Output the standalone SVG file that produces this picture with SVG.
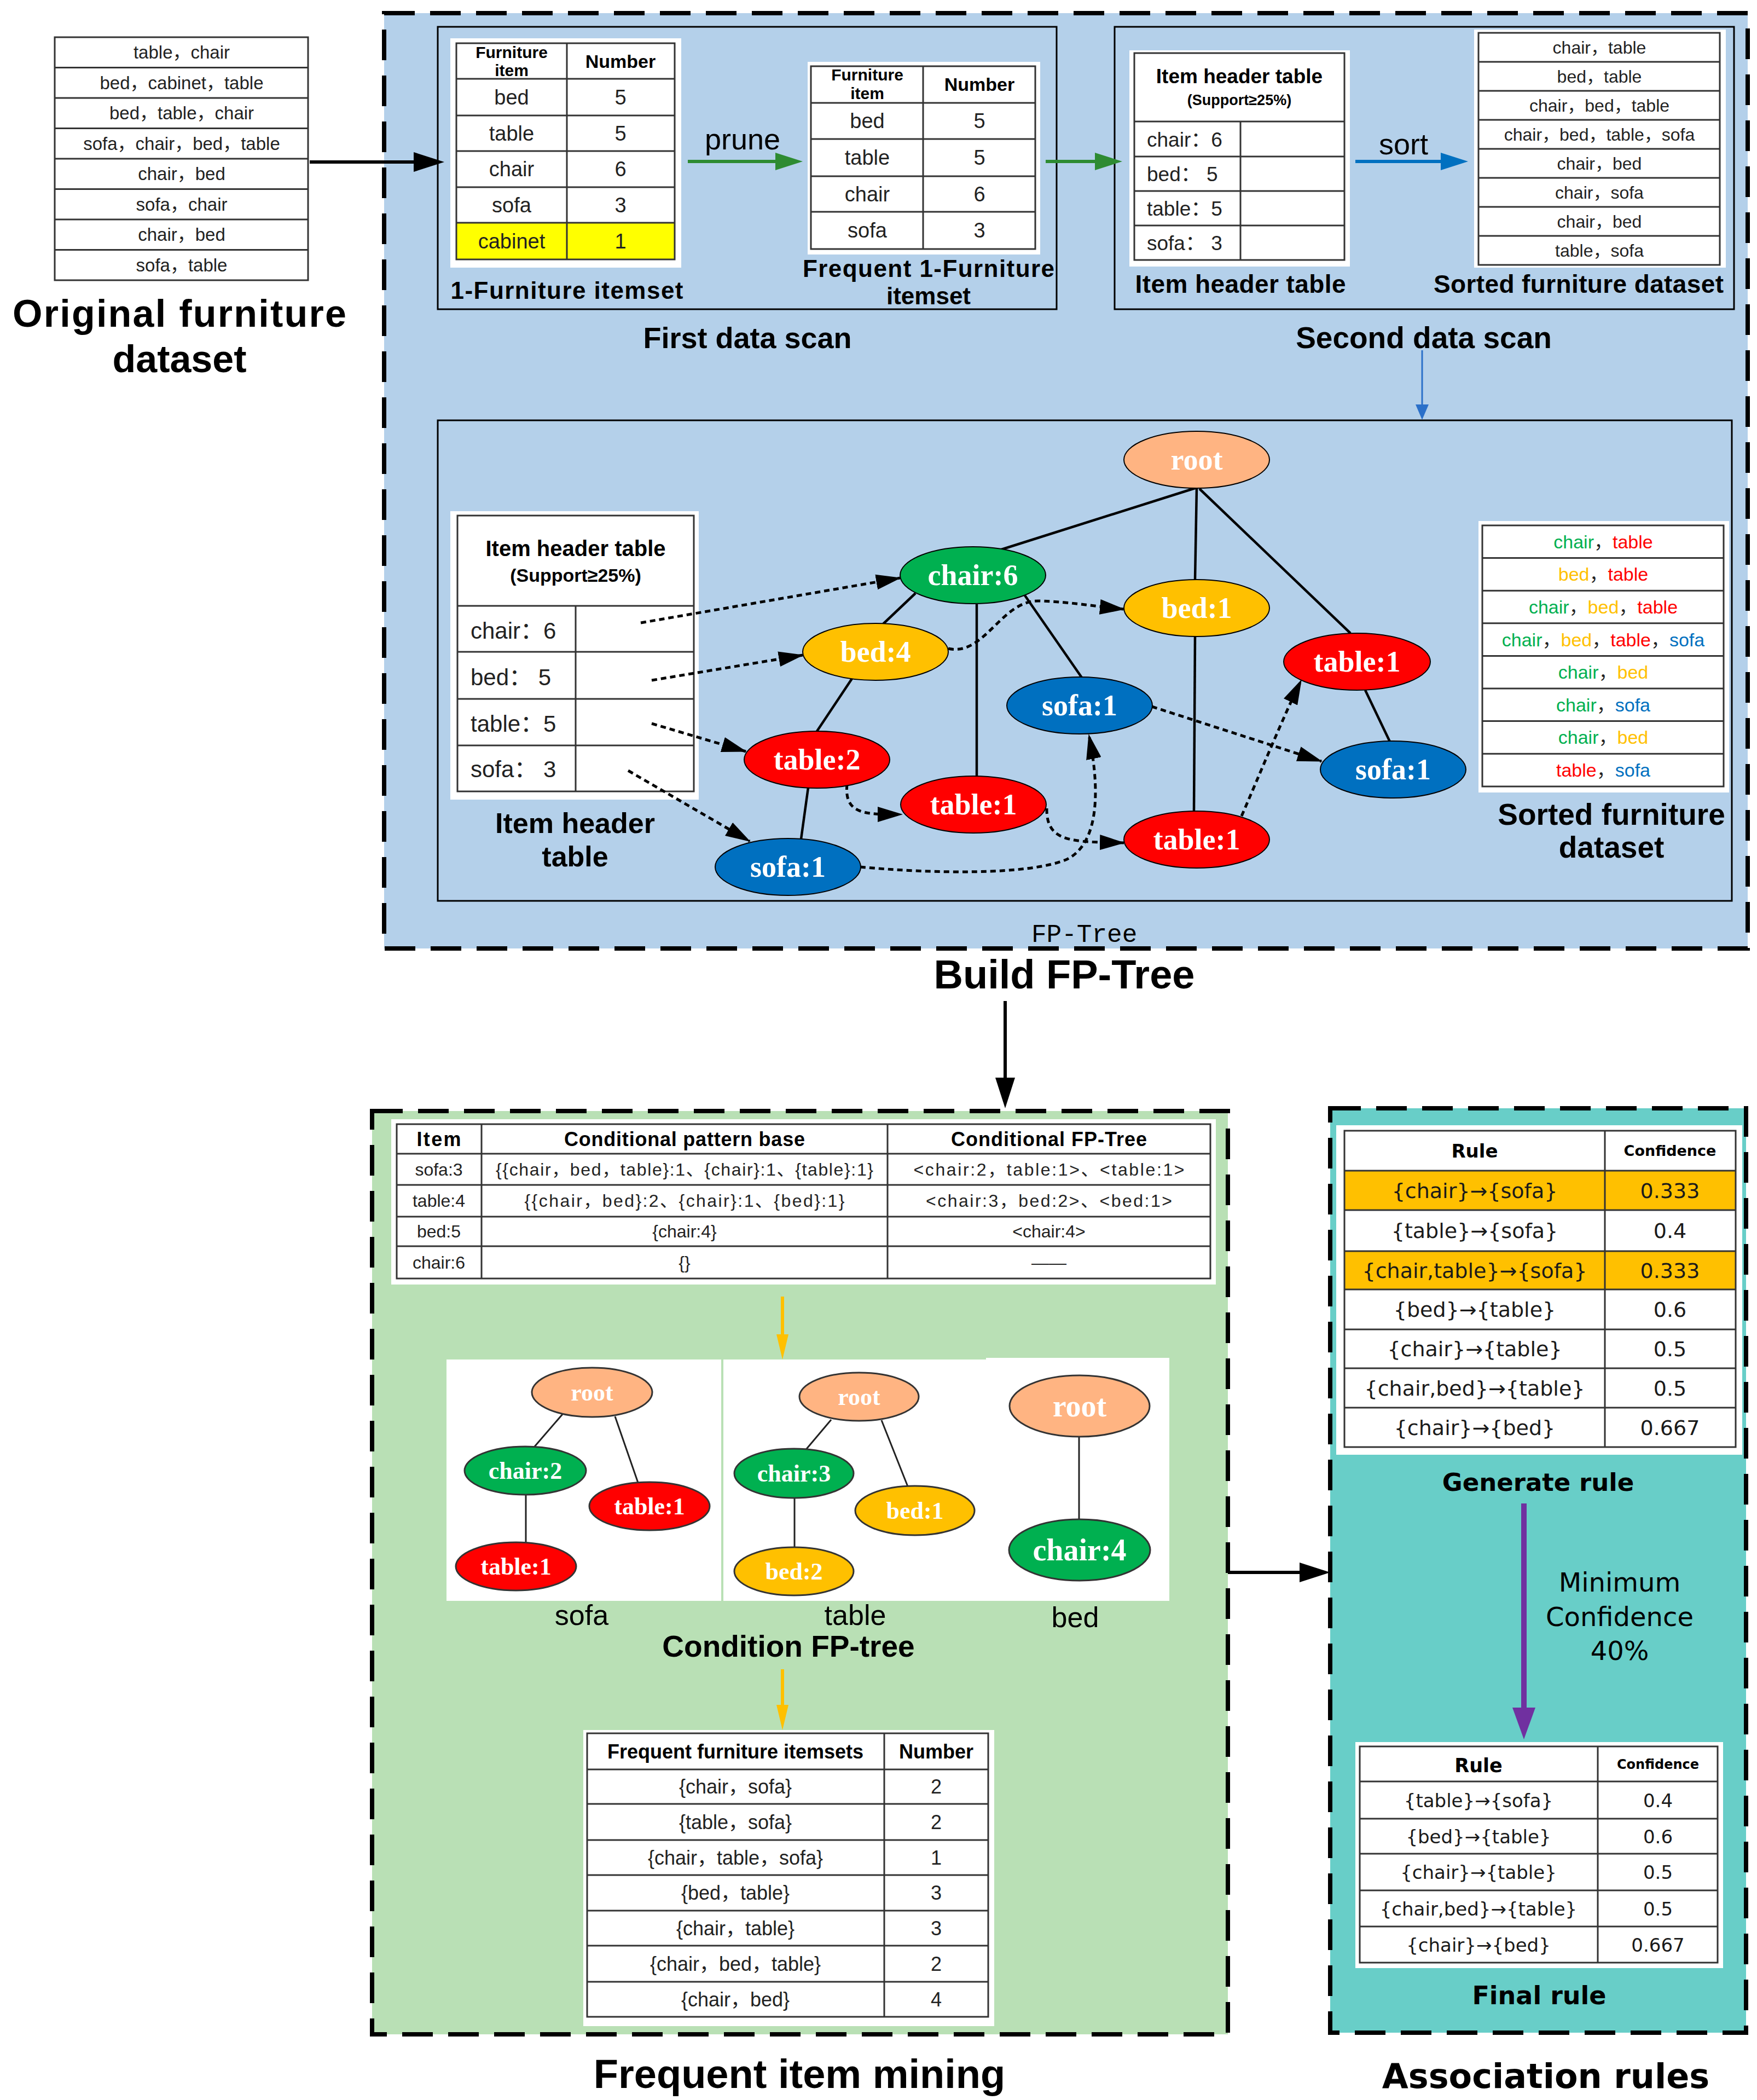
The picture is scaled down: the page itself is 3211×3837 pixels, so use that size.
<svg xmlns="http://www.w3.org/2000/svg" width="3211" height="3837" viewBox="0 0 3211 3837">
<style>
.s{font-family:"Liberation Sans","Noto Sans CJK SC",sans-serif;fill:#222}
.sb{font-family:"Liberation Sans","Noto Sans CJK SC",sans-serif;font-weight:bold;fill:#000}
.dv{font-family:"DejaVu Sans","Noto Sans CJK SC",sans-serif;fill:#1a1a1a}
.dvb{font-family:"DejaVu Sans",sans-serif;font-weight:bold;fill:#000}
.m{text-anchor:middle}
.nd{font-family:"Liberation Serif",serif;font-weight:bold;fill:#fff;text-anchor:middle;font-size:54px}
.ct{font-family:"Liberation Serif",serif;font-weight:bold;fill:#fff;text-anchor:middle}
.frame{stroke:#000;stroke-width:8;stroke-dasharray:56 28}
.box{fill:none;stroke:#000;stroke-width:3}
.tb{fill:#fff;stroke:#333;stroke-width:3}
.tbo{fill:none;stroke:#333;stroke-width:3}
.gl{fill:none;stroke:#333;stroke-width:3}
.edge{fill:none;stroke:#000;stroke-width:4.5}
.link{fill:none;stroke:#000;stroke-width:5;stroke-dasharray:10 7}
.cedge{fill:none;stroke:#222;stroke-width:3}
.root{fill:#FFB482;stroke:#000;stroke-width:2}
.gr{fill:#00B050;stroke:#000;stroke-width:2}
.ye{fill:#FFC000;stroke:#000;stroke-width:2}
.re{fill:#FF0000;stroke:#000;stroke-width:2}
.bl{fill:#0070C0;stroke:#000;stroke-width:2}
.cg{fill:#00B050}.cr{fill:#FF0000}.cy{fill:#FFC000}.cb{fill:#0070C0}
.cn{stroke:#333;stroke-width:3}
</style>
<defs>
<marker id="ak" markerUnits="userSpaceOnUse" markerWidth="56" markerHeight="36" refX="28" refY="18" orient="auto"><path d="M0,0 L56,18 L0,36 z" fill="#000"/></marker>
<marker id="ag" markerUnits="userSpaceOnUse" markerWidth="50" markerHeight="32" refX="25" refY="16" orient="auto"><path d="M0,0 L50,16 L0,32 z" fill="#2E8B32"/></marker>
<marker id="ab" markerUnits="userSpaceOnUse" markerWidth="50" markerHeight="32" refX="25" refY="16" orient="auto"><path d="M0,0 L50,16 L0,32 z" fill="#0070C0"/></marker>
<marker id="abs" markerUnits="userSpaceOnUse" markerWidth="28" markerHeight="24" refX="14" refY="12" orient="auto"><path d="M0,0 L28,12 L0,24 z" fill="#2B70C9"/></marker>
<marker id="al" markerUnits="userSpaceOnUse" markerWidth="46" markerHeight="28" refX="44" refY="14" orient="auto"><path d="M0,0 L46,14 L0,28 z" fill="#000"/></marker>
<marker id="ay" markerUnits="userSpaceOnUse" markerWidth="46" markerHeight="22" refX="23" refY="11" orient="auto"><path d="M0,0 L46,11 L0,22 z" fill="#FFC000"/></marker>
<marker id="ap" markerUnits="userSpaceOnUse" markerWidth="58" markerHeight="42" refX="29" refY="21" orient="auto"><path d="M0,0 L58,21 L0,42 z" fill="#7030A0"/></marker>
</defs>
<rect width="3211" height="3837" fill="#fff"/>

<!-- Frames -->
<g id="frames">
<rect x="702" y="24" width="2492" height="1709" fill="#B4D0EA" class="frame"/>
<rect x="680" y="2030" width="1564" height="1687" fill="#B9E0B5" class="frame"/>
<rect x="2431" y="2025" width="760" height="1689" fill="#68CEC8" class="frame"/>
</g>

<!-- Original dataset -->
<g id="original-dataset">
<rect x="100" y="68" width="463" height="444" class="tb"/>
<path class="gl" d="M100,123.5H563M100,179H563M100,234.5H563M100,290H563M100,345.5H563M100,401H563M100,456.5H563"/>
<g class="s m" font-size="33">
<text x="332" y="107">table，chair</text>
<text x="332" y="163">bed，cabinet，table</text>
<text x="332" y="218">bed，table，chair</text>
<text x="332" y="274">sofa，chair，bed，table</text>
<text x="332" y="329">chair，bed</text>
<text x="332" y="385">sofa，chair</text>
<text x="332" y="440">chair，bed</text>
<text x="332" y="496">sofa，table</text>
</g>
<text class="sb m" font-size="70" x="328" y="597" textLength="610">Original furniture</text>
<text class="sb m" font-size="70" x="328" y="680">dataset</text>
</g>

<!-- First data scan -->
<g id="first-data-scan">
<rect x="800" y="49" width="1131" height="516" class="box"/>
<rect x="823" y="70" width="422" height="419" fill="#fff"/>
<rect x="834" y="407" width="399" height="67" fill="#FFFF00"/>
<rect x="834" y="79" width="399" height="395" class="tbo"/>
<path class="gl" d="M1036,79V474M834,144H1233M834,211H1233M834,276H1233M834,342H1233M834,407H1233"/>
<g class="sb m">
<text x="935" y="106" font-size="30">Furniture</text>
<text x="935" y="139" font-size="30">item</text>
<text x="1134" y="124" font-size="34">Number</text>
</g>
<g class="s m" font-size="38">
<text x="935" y="191">bed</text><text x="1134" y="191">5</text>
<text x="935" y="257">table</text><text x="1134" y="257">5</text>
<text x="935" y="322">chair</text><text x="1134" y="322">6</text>
<text x="935" y="388">sofa</text><text x="1134" y="388">3</text>
<text x="935" y="454">cabinet</text><text x="1134" y="454">1</text>
</g>
<text class="sb m" font-size="44" x="1036" y="546" textLength="425">1-Furniture itemset</text>
<text class="s m" font-size="54" x="1357" y="273" style="fill:#000">prune</text>
<rect x="1476" y="113" width="425" height="352" fill="#fff"/>
<rect x="1482" y="121" width="410" height="334" class="tbo"/>
<path class="gl" d="M1687,121V455M1482,188H1892M1482,254H1892M1482,322H1892M1482,387H1892"/>
<g class="sb m">
<text x="1585" y="147" font-size="30">Furniture</text>
<text x="1585" y="181" font-size="30">item</text>
<text x="1790" y="166" font-size="34">Number</text>
</g>
<g class="s m" font-size="38">
<text x="1585" y="234">bed</text><text x="1790" y="234">5</text>
<text x="1585" y="301">table</text><text x="1790" y="301">5</text>
<text x="1585" y="368">chair</text><text x="1790" y="368">6</text>
<text x="1585" y="434">sofa</text><text x="1790" y="434">3</text>
</g>
<text class="sb m" font-size="44" x="1697" y="506" textLength="460">Frequent 1-Furniture</text>
<text class="sb m" font-size="44" x="1697" y="556">itemset</text>
<text class="sb m" font-size="54" x="1366" y="636">First data scan</text>
</g>

<!-- Second data scan -->
<g id="second-data-scan">
<rect x="2037" y="49" width="1132" height="516" class="box"/>
<rect x="2064" y="92" width="403" height="395" fill="#fff"/>
<rect x="2073" y="97" width="384" height="378" class="tbo"/>
<path class="gl" d="M2267,222V475M2073,222H2457M2073,286H2457M2073,349H2457M2073,412H2457"/>
<text class="sb m" font-size="37" x="2265" y="152">Item header table</text>
<text class="sb m" font-size="27" x="2265" y="192">(Support≥25%)</text>
<g class="s" font-size="37">
<text x="2096" y="268">chair：6</text>
<text x="2096" y="331">bed：  5</text>
<text x="2096" y="394">table：5</text>
<text x="2096" y="457">sofa：  3</text>
</g>
<text class="s m" font-size="54" x="2565" y="282" style="fill:#000">sort</text>
<rect x="2694" y="54" width="460" height="435" fill="#fff"/>
<rect x="2702" y="60" width="441" height="424" class="tbo"/>
<path class="gl" d="M2702,113H3143M2702,166H3143M2702,219H3143M2702,272H3143M2702,325H3143M2702,378H3143M2702,431H3143"/>
<g class="s m" font-size="32">
<text x="2923" y="98">chair，table</text>
<text x="2923" y="151">bed，table</text>
<text x="2923" y="204">chair，bed，table</text>
<text x="2923" y="257">chair，bed，table，sofa</text>
<text x="2923" y="310">chair，bed</text>
<text x="2923" y="363">chair，sofa</text>
<text x="2923" y="416">chair，bed</text>
<text x="2923" y="469">table，sofa</text>
</g>
<text class="sb m" font-size="46" x="2267" y="535" textLength="385">Item header table</text>
<text class="sb m" font-size="46" x="2885" y="535" textLength="530">Sorted furniture dataset</text>
<text class="sb m" font-size="55" x="2602" y="636">Second data scan</text>
</g>

<!-- FP-Tree panel -->
<g id="fp-tree-panel">
<rect x="800" y="768" width="2365" height="878" class="box"/>
<rect x="823" y="934" width="454" height="527" fill="#fff"/>
<rect x="836" y="942" width="432" height="504" class="tbo"/>
<path class="gl" d="M1052,1107V1446M836,1107H1268M836,1191H1268M836,1277H1268M836,1362H1268"/>
<text class="sb m" font-size="40" x="1052" y="1016">Item header table</text>
<text class="sb m" font-size="34" x="1052" y="1063">(Support≥25%)</text>
<g class="s" font-size="42">
<text x="860" y="1167">chair：6</text>
<text x="860" y="1252">bed：  5</text>
<text x="860" y="1337">table：5</text>
<text x="860" y="1420">sofa：  3</text>
</g>
<text class="sb m" font-size="52" x="1051" y="1522">Item header</text>
<text class="sb m" font-size="52" x="1051" y="1583">table</text>
<rect x="2702" y="952" width="458" height="496" fill="#fff"/>
<rect x="2709" y="960" width="441" height="477" class="tbo"/>
<path class="gl" d="M2709,1019.6H3150M2709,1079.2H3150M2709,1138.8H3150M2709,1198.4H3150M2709,1258H3150M2709,1317.6H3150M2709,1377.2H3150"/>
<g class="s m" font-size="34">
<text x="2930" y="1002"><tspan class="cg">chair</tspan>，<tspan class="cr">table</tspan></text>
<text x="2930" y="1061"><tspan class="cy">bed</tspan>，<tspan class="cr">table</tspan></text>
<text x="2930" y="1121"><tspan class="cg">chair</tspan>，<tspan class="cy">bed</tspan>，<tspan class="cr">table</tspan></text>
<text x="2930" y="1181"><tspan class="cg">chair</tspan>，<tspan class="cy">bed</tspan>，<tspan class="cr">table</tspan>，<tspan class="cb">sofa</tspan></text>
<text x="2930" y="1240"><tspan class="cg">chair</tspan>，<tspan class="cy">bed</tspan></text>
<text x="2930" y="1300"><tspan class="cg">chair</tspan>，<tspan class="cb">sofa</tspan></text>
<text x="2930" y="1359"><tspan class="cg">chair</tspan>，<tspan class="cy">bed</tspan></text>
<text x="2930" y="1419"><tspan class="cr">table</tspan>，<tspan class="cb">sofa</tspan></text>
</g>
<text class="sb m" font-size="55" x="2945" y="1507">Sorted furniture</text>
<text class="sb m" font-size="55" x="2945" y="1567">dataset</text>
<text x="1885" y="1721" font-family="Liberation Mono, monospace" font-size="46" fill="#000">FP-Tree</text>
</g>

<!-- Connectors -->
<g id="connectors">
<g id="tree-edges">
<path class="edge" d="M2187,891L1830,1004" stroke-width="6"/>
<path class="edge" d="M2187,891L2184,1059"/>
<path class="edge" d="M2192,893L2468,1157"/>
<path class="edge" d="M1673,1084L1614,1140"/>
<path class="edge" d="M1785,1104L1785,1419"/>
<path class="edge" d="M1873,1088L1977,1238"/>
<path class="edge" d="M1557,1240L1493,1336"/>
<path class="edge" d="M1477,1439L1464,1533"/>
<path class="edge" d="M2184,1162L2182,1482"/>
<path class="edge" d="M2495,1261L2540,1355"/>
</g>
<g id="node-links" marker-end="url(#al)">
<path class="link" d="M1171,1138L1645,1056"/>
<path class="link" d="M1191,1243L1467,1197"/>
<path class="link" d="M1191,1322L1363,1373"/>
<path class="link" d="M1148,1408L1370,1537"/>
<path class="link" d="M1733,1185C1800,1200 1830,1095 1900,1098C1960,1100 2000,1108 2054,1113"/>
<path class="link" d="M1548,1433C1542,1490 1585,1488 1648,1488"/>
<path class="link" d="M1913,1477C1912,1540 1960,1538 2054,1540"/>
<path class="link" d="M1572,1584C1700,1596 1880,1600 1950,1570C2010,1540 2010,1440 1990,1343"/>
<path class="link" d="M2269,1491C2300,1420 2345,1310 2378,1243"/>
<path class="link" d="M2105,1291L2415,1391"/>
</g>
<line x1="566" y1="296" x2="784" y2="296" stroke="#000" stroke-width="6" marker-end="url(#ak)"/>
<line x1="1257" y1="295" x2="1442" y2="295" stroke="#2E8B32" stroke-width="6" marker-end="url(#ag)"/>
<line x1="1911" y1="295" x2="2026" y2="295" stroke="#2E8B32" stroke-width="6" marker-end="url(#ag)"/>
<line x1="2477" y1="295" x2="2658" y2="295" stroke="#0070C0" stroke-width="6" marker-end="url(#ab)"/>
<line x1="2599" y1="640" x2="2599" y2="753" stroke="#2B70C9" stroke-width="3" marker-end="url(#abs)"/>
<line x1="1837" y1="1829" x2="1837" y2="1997" stroke="#000" stroke-width="6" marker-end="url(#ak)"/>
<line x1="2244" y1="2873" x2="2403" y2="2873" stroke="#000" stroke-width="6" marker-end="url(#ak)"/>
<line x1="1430" y1="2369" x2="1430" y2="2461" stroke="#FFC000" stroke-width="6" marker-end="url(#ay)"/>
<line x1="1430" y1="3050" x2="1430" y2="3138" stroke="#FFC000" stroke-width="6" marker-end="url(#ay)"/>
<line x1="2785" y1="2747" x2="2785" y2="3149" stroke="#7030A0" stroke-width="10" marker-end="url(#ap)"/>
</g>

<!-- FP-tree nodes -->
<g id="node-root"><ellipse cx="2187" cy="840" rx="133" ry="52" class="root"/><text class="nd" x="2187" y="858">root</text></g>
<g id="node-chair6"><ellipse cx="1778" cy="1051" rx="133" ry="52" class="gr"/><text class="nd" x="1778" y="1069">chair:6</text></g>
<g id="node-bed4"><ellipse cx="1600" cy="1191" rx="133" ry="52" class="ye"/><text class="nd" x="1600" y="1209">bed:4</text></g>
<g id="node-table2"><ellipse cx="1493" cy="1388" rx="133" ry="52" class="re"/><text class="nd" x="1493" y="1406">table:2</text></g>
<g id="node-sofa1a"><ellipse cx="1440" cy="1584" rx="133" ry="52" class="bl"/><text class="nd" x="1440" y="1602">sofa:1</text></g>
<g id="node-table1a"><ellipse cx="1779" cy="1470" rx="133" ry="52" class="re"/><text class="nd" x="1779" y="1488">table:1</text></g>
<g id="node-sofa1b"><ellipse cx="1973" cy="1289" rx="133" ry="52" class="bl"/><text class="nd" x="1973" y="1307">sofa:1</text></g>
<g id="node-bed1"><ellipse cx="2187" cy="1111" rx="133" ry="52" class="ye"/><text class="nd" x="2187" y="1129">bed:1</text></g>
<g id="node-table1b"><ellipse cx="2187" cy="1534" rx="133" ry="52" class="re"/><text class="nd" x="2187" y="1552">table:1</text></g>
<g id="node-table1c"><ellipse cx="2480" cy="1209" rx="134" ry="52" class="re"/><text class="nd" x="2480" y="1227">table:1</text></g>
<g id="node-sofa1c"><ellipse cx="2546" cy="1406" rx="133" ry="52" class="bl"/><text class="nd" x="2546" y="1424">sofa:1</text></g>

<text class="sb m" font-size="74" x="1945" y="1806">Build FP-Tree</text>

<!-- Frequent item mining -->
<g id="conditional-table">
<rect x="715" y="2045" width="1507" height="302" fill="#fff"/>
<rect x="725" y="2054" width="1487" height="282" class="tbo"/>
<path class="gl" d="M880,2054V2336M1622,2054V2336M725,2108H2212M725,2165H2212M725,2223H2212M725,2277H2212"/>
<g class="sb m" font-size="36">
<text x="802" y="2094" textLength="81">Item</text>
<text x="1251" y="2094" textLength="440">Conditional pattern base</text>
<text x="1917" y="2094" textLength="358">Conditional FP-Tree</text>
</g>
<g class="s m" font-size="32">
<text x="802" y="2148">sofa:3</text>
<text x="1251" y="2148" textLength="690">{{chair，bed，table}:1、{chair}:1、{table}:1}</text>
<text x="1917" y="2148" textLength="495">&lt;chair:2，table:1&gt;、&lt;table:1&gt;</text>
<text x="802" y="2205">table:4</text>
<text x="1251" y="2205" textLength="585">{{chair，bed}:2、{chair}:1、{bed}:1}</text>
<text x="1917" y="2205" textLength="450">&lt;chair:3，bed:2&gt;、&lt;bed:1&gt;</text>
<text x="802" y="2261">bed:5</text>
<text x="1251" y="2261">{chair:4}</text>
<text x="1917" y="2261">&lt;chair:4&gt;</text>
<text x="802" y="2318">chair:6</text>
<text x="1251" y="2318">{}</text>
<text x="1917" y="2318">——</text>
</g>
</g>

<g id="condition-trees">
<rect x="816" y="2484" width="502" height="441" fill="#fff"/>
<rect x="1322" y="2484" width="480" height="441" fill="#fff"/>
<rect x="1802" y="2481" width="335" height="444" fill="#fff"/>
<path class="cedge" d="M1028,2584L977,2643M1124,2588L1166,2709M961,2731L961,2818"/>
<path class="cedge" d="M1519,2594L1470,2652M1611,2595L1659,2716M1452,2737L1452,2827"/>
<path class="cedge" d="M1972,2625L1972,2776"/>
<g id="c-sofa-root"><ellipse cx="1082" cy="2544" rx="110" ry="45" fill="#FFB482" class="cn"/><text class="ct" font-size="44" x="1082" y="2559">root</text></g>
<g id="c-sofa-chair2"><ellipse cx="960" cy="2687" rx="111" ry="44" fill="#00B050" class="cn"/><text class="ct" font-size="44" x="960" y="2702">chair:2</text></g>
<g id="c-sofa-table1a"><ellipse cx="1187" cy="2752" rx="110" ry="44" fill="#FF0000" class="cn"/><text class="ct" font-size="44" x="1187" y="2767">table:1</text></g>
<g id="c-sofa-table1b"><ellipse cx="943" cy="2862" rx="110" ry="44" fill="#FF0000" class="cn"/><text class="ct" font-size="44" x="943" y="2877">table:1</text></g>
<g id="c-table-root"><ellipse cx="1570" cy="2552" rx="109" ry="44" fill="#FFB482" class="cn"/><text class="ct" font-size="44" x="1570" y="2567">root</text></g>
<g id="c-table-chair3"><ellipse cx="1451" cy="2692" rx="109" ry="45" fill="#00B050" class="cn"/><text class="ct" font-size="44" x="1451" y="2707">chair:3</text></g>
<g id="c-table-bed1"><ellipse cx="1672" cy="2760" rx="109" ry="45" fill="#FFC000" class="cn"/><text class="ct" font-size="44" x="1672" y="2775">bed:1</text></g>
<g id="c-table-bed2"><ellipse cx="1451" cy="2871" rx="109" ry="44" fill="#FFC000" class="cn"/><text class="ct" font-size="44" x="1451" y="2886">bed:2</text></g>
<g id="c-bed-root"><ellipse cx="1973" cy="2569" rx="128" ry="56" fill="#FFB482" class="cn"/><text class="ct" font-size="56" x="1973" y="2588">root</text></g>
<g id="c-bed-chair4"><ellipse cx="1973" cy="2832" rx="129" ry="56" fill="#00B050" class="cn"/><text class="ct" font-size="56" x="1973" y="2851">chair:4</text></g>
<g class="s m" font-size="52" style="fill:#000">
<text x="1063" y="2969">sofa</text>
<text x="1563" y="2969">table</text>
<text x="1965" y="2973">bed</text>
</g>
<text class="sb m" font-size="55" x="1441" y="3027">Condition FP-tree</text>
</g>

<g id="frequent-itemsets">
<rect x="1066" y="3161" width="751" height="541" fill="#fff"/>
<rect x="1073" y="3167" width="733" height="518" class="tbo"/>
<path class="gl" d="M1616,3167V3685M1073,3233H1806M1073,3296H1806M1073,3362H1806M1073,3426H1806M1073,3491H1806M1073,3555H1806M1073,3621H1806"/>
<text class="sb m" font-size="36" x="1344" y="3213">Frequent furniture itemsets</text>
<text class="sb m" font-size="36" x="1711" y="3213">Number</text>
<g class="s m" font-size="36">
<text x="1344" y="3277">{chair，sofa}</text><text x="1711" y="3277">2</text>
<text x="1344" y="3342">{table，sofa}</text><text x="1711" y="3342">2</text>
<text x="1344" y="3407">{chair，table，sofa}</text><text x="1711" y="3407">1</text>
<text x="1344" y="3471">{bed，table}</text><text x="1711" y="3471">3</text>
<text x="1344" y="3536">{chair，table}</text><text x="1711" y="3536">3</text>
<text x="1344" y="3601">{chair，bed，table}</text><text x="1711" y="3601">2</text>
<text x="1344" y="3666">{chair，bed}</text><text x="1711" y="3666">4</text>
</g>
</g>
<text class="sb m" font-size="74" x="1461" y="3815">Frequent item mining</text>

<!-- Association rules -->
<g id="rule-table">
<rect x="2442" y="2056" width="742" height="602" fill="#fff"/>
<rect x="2457" y="2139" width="715" height="72" fill="#FFC000"/>
<rect x="2457" y="2286" width="715" height="70" fill="#FFC000"/>
<rect x="2457" y="2066" width="715" height="578" class="tbo"/>
<path class="gl" d="M2933,2066V2644M2457,2139H3172M2457,2211H3172M2457,2286H3172M2457,2356H3172M2457,2429H3172M2457,2500H3172M2457,2572H3172"/>
<text class="dvb m" font-size="34" x="2695" y="2115">Rule</text>
<text class="dvb m" font-size="27" x="3052" y="2112">Confidence</text>
<g class="dv m" font-size="38">
<text x="2695" y="2189">{chair}→{sofa}</text><text x="3052" y="2189">0.333</text>
<text x="2695" y="2262">{table}→{sofa}</text><text x="3052" y="2262">0.4</text>
<text x="2695" y="2335">{chair,table}→{sofa}</text><text x="3052" y="2335">0.333</text>
<text x="2695" y="2406">{bed}→{table}</text><text x="3052" y="2406">0.6</text>
<text x="2695" y="2478">{chair}→{table}</text><text x="3052" y="2478">0.5</text>
<text x="2695" y="2550">{chair,bed}→{table}</text><text x="3052" y="2550">0.5</text>
<text x="2695" y="2622">{chair}→{bed}</text><text x="3052" y="2622">0.667</text>
</g>
<text class="dvb m" font-size="45" x="2811" y="2724">Generate rule</text>
</g>
<g class="dv m" font-size="48" style="fill:#000">
<text x="2960" y="2908">Minimum</text>
<text x="2960" y="2971">Confidence</text>
<text x="2960" y="3033">40%</text>
</g>
<g id="final-rule-table">
<rect x="2477" y="3183" width="672" height="413" fill="#fff"/>
<rect x="2485" y="3191" width="654" height="395" class="tbo"/>
<path class="gl" d="M2920,3191V3586M2485,3255H3139M2485,3323H3139M2485,3387H3139M2485,3454H3139M2485,3520H3139"/>
<text class="dvb m" font-size="35" x="2702" y="3238">Rule</text>
<text class="dvb m" font-size="24" x="3030" y="3232">Confidence</text>
<g class="dv m" font-size="34">
<text x="2702" y="3302">{table}→{sofa}</text><text x="3030" y="3302">0.4</text>
<text x="2702" y="3368">{bed}→{table}</text><text x="3030" y="3368">0.6</text>
<text x="2702" y="3433">{chair}→{table}</text><text x="3030" y="3433">0.5</text>
<text x="2702" y="3500">{chair,bed}→{table}</text><text x="3030" y="3500">0.5</text>
<text x="2702" y="3566">{chair}→{bed}</text><text x="3030" y="3566">0.667</text>
</g>
<text class="dvb m" font-size="46" x="2813" y="3662">Final rule</text>
</g>
<text class="dvb m" font-size="62" x="2825" y="3815">Association rules</text>
</svg>
